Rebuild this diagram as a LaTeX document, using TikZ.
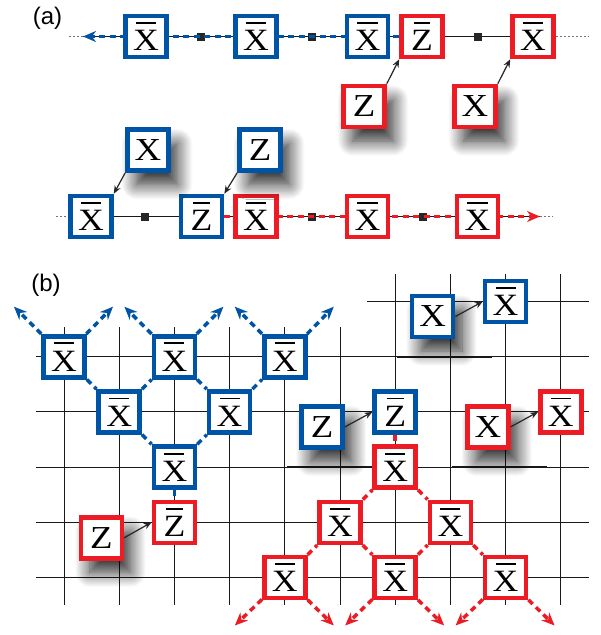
\documentclass[tikz,border=0pt]{standalone}
\usepackage{fontspec}
\setmainfont{Liberation Serif}
\newfontfamily\labfont{Liberation Sans}
\usetikzlibrary{arrows.meta,shadows.blur,calc}
\definecolor{qblue}{RGB}{0,84,166}
\definecolor{qred}{RGB}{237,28,36}
\newcommand{\obar}[1]{\setbox0=\hbox{#1}\vbox{\offinterlineskip\hbox to\wd0{\hss\vrule width .78\wd0 height 1.8pt depth 0pt\hss}\kern 6.5pt\box0}}
\newcommand{\bt}[1]{\scalebox{1.15}[1]{\obar{#1}}}
\newcommand{\pl}[1]{\scalebox{1.15}[1]{#1}}
\pgfdeclarelayer{bg}
\pgfsetlayers{bg,main}
\tikzset{
  box/.style={draw, line width=4.6pt, fill=white, minimum size=41pt, inner sep=0pt, font=\fontsize{31}{31}\selectfont},
  bbox/.style={box, draw=qblue},
  rbox/.style={box, draw=qred},
  inp/.style={blur shadow={shadow xshift=9pt, shadow yshift=-14pt, shadow blur radius=15pt, shadow blur steps=16, shadow opacity=85}, font=\fontsize{32}{32}\selectfont},
  gridl/.style={line width=0.9pt, black!90},
  thickseg/.style={line width=2pt, black!90},
  thinl/.style={line width=0.9pt, black!90},
  gdot/.style={line width=0.8pt, black!55, dash pattern=on 2pt off 2pt},
  bd/.style={line width=3.5pt, qblue, dash pattern=on 6pt off 4.5pt},
  rd/.style={line width=3.5pt, qred, dash pattern=on 6pt off 4.5pt},
  tipb/.style={-{Stealth[length=13pt,width=11pt]}},
  sq/.style={fill=black!85, minimum size=8pt, inner sep=0pt},
  arr/.style={line width=1.2pt, black!85, -{Stealth[length=8pt,width=6.5pt]}},
  lab/.style={font=\labfont\fontsize{24}{24}\selectfont, inner sep=0pt}
}
\begin{document}
\begin{tikzpicture}[x=1pt,y=-1pt]
\useasboundingbox (0,0) rectangle (601,635);
% labels
\node[lab] (la) at (47.5,18.5) {(a)};
\node[lab] (lb) at (46,285.5) {(b)};
% ===== (a) top row =====
\node[bbox] (t1) at (146,36.5) {\bt{X}};
\node[bbox] (t2) at (256,36.5) {\bt{X}};
\node[bbox] (t3) at (367.5,36.5) {\bt{X}};
\node[rbox] (t4) at (422,36.5) {\bt{Z}};
\node[rbox] (t5) at (533,36.5) {\bt{X}};
\node[rbox,inp] (t6) at (364,106.5) {\pl{Z}};
\node[rbox,inp] (t7) at (475,106.5) {\pl{X}};
\coordinate (tl) at (69,36.5);
\coordinate (ta) at (83,36.5);
\coordinate (tr) at (588,36.5);
% ===== (a) bottom row =====
\node[bbox] (u1) at (91,216.5) {\bt{X}};
\node[bbox] (u2) at (201.5,216.5) {\bt{Z}};
\node[rbox] (u3) at (256,216.5) {\bt{X}};
\node[rbox] (u4) at (367.5,216.5) {\bt{X}};
\node[rbox] (u5) at (477.5,216.5) {\bt{X}};
\node[bbox,inp] (u6) at (148,150) {\pl{X}};
\node[bbox,inp] (u7) at (260,150) {\pl{Z}};
\coordinate (ul) at (56,216.5);
\coordinate (ua) at (540,216.5);
\coordinate (ur) at (553,216.5);
% ===== (b) =====
\node[bbox] (b1) at (64,356.7) {\bt{X}};
\node[bbox] (b2) at (119.2,411.9) {\bt{X}};
\node[bbox] (b3) at (174.4,356.7) {\bt{X}};
\node[bbox] (b4) at (229.6,411.9) {\bt{X}};
\node[bbox] (b5) at (284.8,356.7) {\bt{X}};
\node[bbox] (b6) at (174.4,467.1) {\bt{X}};
\node[rbox] (c0) at (174.4,522.3) {\bt{Z}};
\node[rbox,inp] (c0i) at (101.4,537.8) {\pl{Z}};
\node[bbox] (d1) at (505.6,301.5) {\bt{X}};
\node[bbox,inp] (d1i) at (432.6,316.5) {\pl{X}};
\node[bbox] (d2) at (395.2,411.9) {\bt{Z}};
\node[bbox,inp] (d2i) at (322.2,426.9) {\pl{Z}};
\node[rbox] (d3) at (560.8,411.9) {\bt{X}};
\node[rbox,inp] (d3i) at (487.8,426.9) {\pl{X}};
\node[rbox] (r1) at (395.2,467.1) {\bt{X}};
\node[rbox] (r2) at (340,522.3) {\bt{X}};
\node[rbox] (r3) at (450.4,522.3) {\bt{X}};
\node[rbox] (r4) at (284.8,577.5) {\bt{X}};
\node[rbox] (r5) at (395.2,577.5) {\bt{X}};
\node[rbox] (r6) at (505.6,577.5) {\bt{X}};
\foreach \n in {b1,b3,b5}{
  \coordinate (\n L) at ($(\n)+(-50,-50)$);
  \coordinate (\n R) at ($(\n)+(49,-50)$);
}
\foreach \n in {r4,r5,r6}{
  \coordinate (\n L) at ($(\n)+(-50,48)$);
  \coordinate (\n R) at ($(\n)+(49,48)$);
}
% arrows from inputs
\draw[arr] (t6.north east) -- (t4.south west);
\draw[arr] (t7.north east) -- (t5.south west);
\draw[arr] (u6.south west) -- (u1.north east);
\draw[arr] (u7.south west) -- (u2.north east);
\draw[arr] (c0i.east) -- (c0.west);
\draw[arr] (d1i.east) -- (d1.west);
\draw[arr] (d2i.east) -- (d2.west);
\draw[arr] (d3i.east) -- (d3.west);
\begin{pgfonlayer}{bg}
  % grid
  \foreach \k in {0,...,5} \draw[gridl] ({64+55.2*\k},327) -- ({64+55.2*\k},605);
  \foreach \k in {6,...,9} \draw[gridl] ({64+55.2*\k},274) -- ({64+55.2*\k},605);
  \draw[gridl] (367,301.5) -- (589,301.5);
  \foreach \m in {1,...,5} \draw[gridl] (36,{301.5+55.2*\m}) -- (589,{301.5+55.2*\m});
  \draw[thickseg] (397,356.7) -- (492,356.7);
  \draw[thickseg] (287,467.1) -- (380,467.1);
  \draw[thickseg] (452,467.1) -- (547,467.1);
  % (a) lines
  \draw[gdot] (tl) -- (ta);
  \draw[thinl] (ta) -- (t5);
  \draw[gdot] (t5.east) -- (tr);
  \draw[gdot] (ul) -- (u1.west);
  \draw[thinl] (u1) -- (ua);
  \draw[gdot] (ua) -- (ur);
  \node[sq] (s1) at (201,36.5) {};
  \node[sq] (s2) at (312,36.5) {};
  \node[sq] (s3) at (478,36.5) {};
  \node[sq] (s4) at (145,216.5) {};
  \node[sq] (s5) at (312,216.5) {};
  \node[sq] (s6) at (423,216.5) {};
  \draw[bd,tipb] (t4.west) -- (ta);
  \draw[rd,tipb] (u2.east) -- (ua);
  % (b) blue tree
  \draw[bd] (b1) -- (b2) -- (b3) -- (b4) -- (b5);
  \draw[bd] (b2) -- (b6) -- (b4);
  \draw[bd] (b6) -- (c0);
  \foreach \n in {b1,b3,b5}{
    \draw[bd,tipb] (\n) -- (\n L);
    \draw[bd,tipb] (\n) -- (\n R);
  }
  % (b) red tree
  \draw[rd] (d2) -- (r1);
  \draw[rd] (r4) -- (r2) -- (r1) -- (r3) -- (r6);
  \draw[rd] (r2) -- (r5) -- (r3);
  \foreach \n in {r4,r5,r6}{
    \draw[rd,tipb] (\n) -- (\n L);
    \draw[rd,tipb] (\n) -- (\n R);
  }
\end{pgfonlayer}
\end{tikzpicture}
\end{document}
